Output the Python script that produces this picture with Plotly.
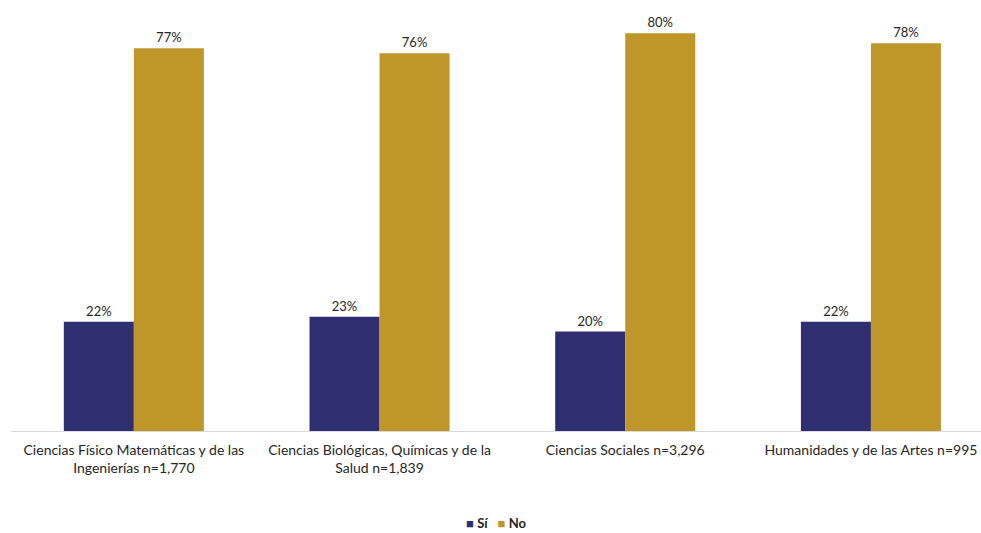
import plotly.graph_objects as go

# Áreas de conocimiento y porcentajes por respuesta
categorias = [
    "Ciencias Físico Matemáticas y de las<br>Ingenierías n=1,770",
    "Ciencias Biológicas, Químicas y de la<br>Salud n=1,839",
    "Ciencias Sociales n=3,296",
    "Humanidades y de las Artes n=995",
]
series = ["Sí", "No"]
si = [22, 23, 20, 22]
no = [77, 76, 80, 78]

COLORES = {"Sí": "#2E2E70", "No": "#BF9629"}
FUENTE = "Lato, Carlito, Calibri, sans-serif"
TEXTO = "#262626"

fig = go.Figure()
for nombre, valores in zip(series, [si, no]):
    fig.add_trace(go.Bar(
        name=nombre, x=categorias, y=valores,
        marker=dict(color=COLORES[nombre], line=dict(width=0)),
        text=[f"{v}%" for v in valores], textposition="outside",
        textfont=dict(size=13, color=TEXTO, family=FUENTE),
        cliponaxis=False, showlegend=False,
    ))

# Leyenda compacta centrada bajo el gráfico
leyenda = "   ".join(
    f"<span style='color:{COLORES[n]}'>■</span> <b>{n}</b>" for n in series
)
fig.add_annotation(
    text=leyenda, xref="paper", yref="paper", x=0.5, y=-0.218,
    xanchor="center", yanchor="middle", showarrow=False,
    font=dict(size=13, color=TEXTO, family=FUENTE),
)

fig.update_layout(
    width=981, height=533,
    margin=dict(l=11, r=0, t=10, b=102),
    barmode="group", bargap=0.43, bargroupgap=0,
    plot_bgcolor="white", paper_bgcolor="white",
    font=dict(family=FUENTE, size=13, color=TEXTO),
)
fig.update_xaxes(
    range=[-0.5, 3.448], showline=True, linecolor="#D9D9D9", linewidth=1,
    ticks="", showgrid=False, zeroline=False, ticklabelstandoff=6,
    tickfont=dict(size=14, color=TEXTO, family=FUENTE),
)
fig.update_yaxes(range=[0, 84.7], visible=False, showgrid=False)

fig.write_html("out.html")
